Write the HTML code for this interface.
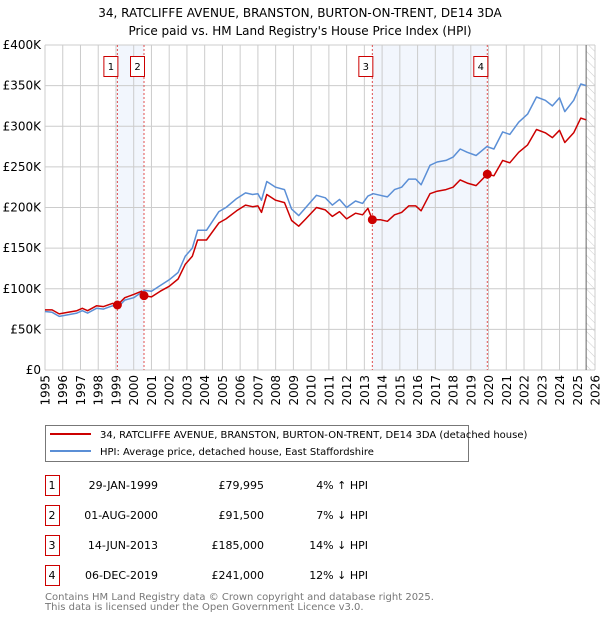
<!DOCTYPE html>
<html><head><meta charset="utf-8">
<style>
body{margin:0;background:#fff;font-family:"DejaVu Sans","Liberation Sans",sans-serif;}
svg text{font-family:"DejaVu Sans","Liberation Sans",sans-serif;}
</style></head>
<body>
<svg id="chart" width="600" height="620" xmlns="http://www.w3.org/2000/svg">
<text x="300" y="17" text-anchor="middle" font-size="12">34, RATCLIFFE AVENUE, BRANSTON, BURTON-ON-TRENT, DE14 3DA</text>
<text x="300" y="35" text-anchor="middle" font-size="12">Price paid vs. HM Land Registry's House Price Index (HPI)</text>
<g id="plot"></g>
<g>
<rect x="45.5" y="425.5" width="423" height="36" fill="#fff" stroke="#777"/>
<line x1="50" y1="434" x2="91" y2="434" stroke="#cc0000" stroke-width="2"/>
<text x="100" y="438" font-size="10">34, RATCLIFFE AVENUE, BRANSTON, BURTON-ON-TRENT, DE14 3DA (detached house)</text>
<line x1="50" y1="451" x2="91" y2="451" stroke="#5b8fd6" stroke-width="2"/>
<text x="100" y="455" font-size="10">HPI: Average price, detached house, East Staffordshire</text>
</g>
<g id="table"></g>
<text x="45" y="600" font-size="10" fill="#777">Contains HM Land Registry data © Crown copyright and database right 2025.</text>
<text x="45" y="610" font-size="10" fill="#777">This data is licensed under the Open Government Licence v3.0.</text>
</svg>
<script>
const hpiTimes=[1995.0,1995.4,1995.8,1996.3,1996.8,1997.1,1997.4,1997.9,1998.3,1998.8,1999.1,1999.5,2000.0,2000.6,2001.0,2001.5,2002.0,2002.5,2002.9,2003.3,2003.6,2004.1,2004.8,2005.2,2005.8,2006.3,2006.7,2007.0,2007.2,2007.5,2008.0,2008.5,2008.9,2009.3,2009.7,2010.3,2010.8,2011.2,2011.6,2012.0,2012.5,2012.9,2013.2,2013.5,2013.9,2014.3,2014.7,2015.1,2015.5,2015.9,2016.2,2016.7,2017.1,2017.6,2018.0,2018.4,2018.8,2019.3,2019.9,2020.3,2020.8,2021.2,2021.7,2022.2,2022.7,2023.2,2023.6,2024.0,2024.3,2024.8,2025.2,2025.5];
const hpiValues=[72,71,66,68,70,73,70,76,75,79,77,86,89,98,97,104,111,120,140,150,172,172,195,200,211,218,216,217,209,232,225,222,198,190,200,215,212,203,210,200,208,205,214,217,215,213,222,225,235,235,228,252,256,258,262,272,268,264,275,272,293,290,305,315,336,332,325,335,318,332,352,350];
const priceTimes=[1995.0,1995.4,1995.8,1996.3,1996.8,1997.1,1997.4,1997.9,1998.3,1998.8,1999.08,1999.5,2000.0,2000.45,2000.58,2001.0,2001.5,2002.0,2002.5,2002.9,2003.3,2003.6,2004.1,2004.8,2005.2,2005.8,2006.3,2006.7,2007.0,2007.2,2007.5,2008.0,2008.5,2008.9,2009.3,2009.7,2010.3,2010.8,2011.2,2011.6,2012.0,2012.5,2012.9,2013.2,2013.45,2013.9,2014.3,2014.7,2015.1,2015.5,2015.9,2016.2,2016.7,2017.1,2017.6,2018.0,2018.4,2018.8,2019.3,2019.93,2020.3,2020.8,2021.2,2021.7,2022.2,2022.7,2023.2,2023.6,2024.0,2024.3,2024.8,2025.2,2025.5];
const priceValues=[74,74,69,71,73,76,73,79,78,82,80,89,93,97,91.5,90,97,103,112,130,140,160,160,181,186,196,203,201,202,194,216,209,206,184,177,186,200,197,189,195,186,193,191,199,185,185,183,191,194,202,202,196,217,220,222,225,234,230,227,241,239,258,255,268,277,296,292,286,295,280,292,310,308];
const saleTimes=[1999.08,2000.58,2013.45,2019.93];
const salePrices=[79.995,91.5,185,241];
const saleLabels=["1","2","3","4"];
const saleDates=["29-JAN-1999","01-AUG-2000","14-JUN-2013","06-DEC-2019"];
const salePriceText=["£79,995","£91,500","£185,000","£241,000"];
const saleHpiText=["4% ↑ HPI","7% ↓ HPI","14% ↓ HPI","12% ↓ HPI"];
const yTicks=[0,50,100,150,200,250,300,350,400];
const yTickLabels=["£0","£50K","£100K","£150K","£200K","£250K","£300K","£350K","£400K"];
const xYears=[1995,1996,1997,1998,1999,2000,2001,2002,2003,2004,2005,2006,2007,2008,2009,2010,2011,2012,2013,2014,2015,2016,2017,2018,2019,2020,2021,2022,2023,2024,2025,2026];

const NS="http://www.w3.org/2000/svg";
const X0=45,X1=595,Y0=370,Y1=45;
const xs=t=>X0+(t-1995)/(2026-1995)*(X1-X0);
const ys=v=>Y0-v/400*(Y0-Y1);
const plot=document.getElementById('plot');
function mk(tag,attrs,parent){const e=document.createElementNS(NS,tag);for(const k in attrs)e.setAttribute(k,attrs[k]);(parent||plot).appendChild(e);return e;}

for(let i=0;i<2;i++){
  const a=saleTimes[i*2],b=saleTimes[i*2+1];
  const r=mk('rect',{x:xs(a),y:Y1,width:xs(b)-xs(a),height:Y0-Y1,fill:'#f2f6fd'});
  
  
}
const defs=mk('defs',{});
const pat=mk('pattern',{id:'hatch',width:6,height:6,patternUnits:'userSpaceOnUse',patternTransform:'rotate(-45)'},defs);
mk('line',{x1:0,y1:0,x2:0,y2:6,stroke:'#ccc','stroke-width':1},pat);
const hz=mk('rect',{x:xs(2025.5),y:Y1,width:X1-xs(2025.5),height:Y0-Y1,fill:'url(#hatch)'});



yTicks.forEach((v,i)=>{
  const l=mk('line',{x1:X0,x2:X1,y1:ys(v),y2:ys(v),stroke:'#cccccc','stroke-width':1});
  
  
  const t=mk('text',{x:X0-4,y:ys(v)+4,'text-anchor':'end','font-size':12});
  t.textContent=yTickLabels[i];
  
  
});
xYears.forEach(y=>{
  const l=mk('line',{x1:xs(y),x2:xs(y),y1:Y1,y2:Y0,stroke:'#cccccc','stroke-width':1});
  
  
  const t=mk('text',{x:0,y:0,'text-anchor':'end','font-size':12,transform:`translate(${xs(y)+4.5},${Y0+5}) rotate(-90)`});
  t.textContent=y;
  
  
});
const vl=mk('line',{x1:xs(2025.5),x2:xs(2025.5),y1:Y1,y2:Y0,stroke:'#666','stroke-width':1});



saleTimes.forEach((t,i)=>{
  const l=mk('line',{x1:xs(t),x2:xs(t),y1:Y1,y2:Y0,stroke:'#e05050','stroke-width':1,'stroke-dasharray':'2,2'});
  
  
  const b=mk('rect',{x:xs(t)-13.5,y:56.5,width:14,height:20,fill:'#fff',stroke:'#cc0000'});
  
  
  const tx=mk('text',{x:xs(t)-6.5,y:70,'text-anchor':'middle','font-size':10});
  tx.textContent=saleLabels[i];
  
  
});

function line(ts,vs,color,name){
  const d=ts.map((t,i)=>(i?'L':'M')+xs(t).toFixed(1)+','+ys(vs[i]).toFixed(1)).join('');
  const p=mk('path',{d,fill:'none',stroke:color,'stroke-width':1.5,'stroke-linejoin':'round'});
  
  
}
line(hpiTimes,hpiValues,'#5b8fd6','hpi-line');
line(priceTimes,priceValues,'#cc0000','price-paid-line');
saleTimes.forEach((t,i)=>{
  const c=mk('circle',{cx:xs(t),cy:ys(salePrices[i]),r:4.5,fill:'#cc0000'});
  
  
});

const tb=document.getElementById('table');
saleLabels.forEach((s,i)=>{
  const y=475+i*30;
  const r=mk('rect',{x:45.5,y:y+0.5,width:14,height:20,fill:'#fff',stroke:'#cc0000'},tb);
  
  
  const cells=[[52,'middle',s,'table-sale-number'],[158,'end',saleDates[i],'table-date'],[264,'end',salePriceText[i],'table-price'],[368,'end',saleHpiText[i],'table-hpi-diff']];
  cells.forEach(c=>{
    const t=mk('text',{x:c[0],y:y+14,'text-anchor':c[1],'font-size':11},tb);
    t.textContent=c[2];
    
    
  });
});
</script>
</body></html>
